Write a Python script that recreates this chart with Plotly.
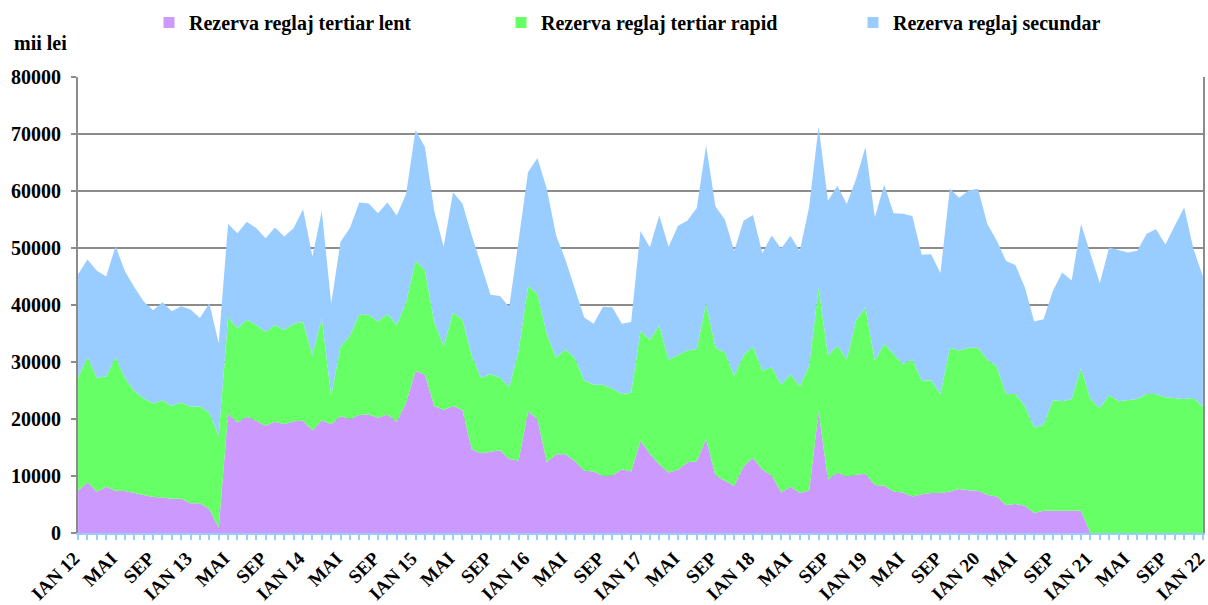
import plotly.graph_objects as go

# Monthly reserve costs, Jan 2012 - Jan 2022 (thousand lei)
months = ["IAN", "FEB", "MAR", "APR", "MAI", "IUN", "IUL", "AUG", "SEP", "OCT", "NOI", "DEC"]

# cumulative level of the "lent" band (bottom layer)
lent = [
    7400, 8900, 7250, 8100, 7400, 7350, 7000, 6600, 6300, 6250, 6000, 6000,
    5200, 5200, 4200, 900, 20900, 19400, 20400, 19700, 18800, 19500, 19100, 19600,
    19700, 18000, 19800, 19100, 20500, 20000, 20700, 20800, 20200, 20800, 19500, 22900,
    28400, 27800, 22300, 21600, 22300, 21600, 14700, 14000, 14200, 14500, 13000, 12700,
    21300, 20000, 12400, 13800, 13800, 12600, 10900, 10800, 10000, 10100, 11200, 10800,
    16200, 13900, 12000, 10600, 11100, 12400, 12600, 16500, 10100, 9200, 8300, 11700,
    13200, 11100, 10100, 7100, 8100, 7000, 7500, 21300, 9400, 10600, 9900, 10200,
    10400, 8400, 8300, 7300, 7100, 6400, 6800, 7000, 7000, 7300, 7700, 7500,
    7400, 6700, 6400, 4900, 5100, 4800, 3500, 3900, 3900, 3900, 3900, 3900,
    0, 0, 0, 0, 0, 0, 0, 0, 0, 0, 0, 0, 0,
]

# cumulative level of lent + rapid
lent_rapid = [
    27300, 30900, 27200, 27500, 30900, 27200, 24900, 23600, 22700, 23300, 22300, 22900,
    22200, 22200, 21100, 17100, 37800, 35900, 37400, 36500, 35200, 36500, 35600, 36700,
    37000, 31200, 37700, 24100, 32700, 34600, 38300, 38300, 37100, 38400, 36500, 40500,
    47800, 46100, 37000, 32700, 38700, 37400, 31100, 27200, 27900, 27300, 25600, 32000,
    43300, 42000, 34900, 30800, 32200, 30700, 26800, 26000, 26000, 25300, 24400, 24600,
    35500, 33900, 36450, 30400, 31200, 32000, 32300, 40300, 32500, 31700, 27600, 31200,
    32700, 28500, 29100, 26000, 27800, 25800, 29400, 43100, 31100, 32900, 30500, 37300,
    39600, 30200, 33200, 31400, 29600, 30500, 26700, 26800, 24400, 32500, 32000, 32500,
    32500, 30400, 29200, 24400, 24400, 22300, 18500, 19000, 23300, 23100, 23500, 28900,
    23500, 21900, 24200, 23100, 23300, 23500, 24400, 24400, 23800, 23600, 23500, 23700,
    22200,
]

# total of all three reserves
total = [
    45400, 48000, 46000, 45000, 50300, 45900, 43100, 40600, 39100, 40500, 38900, 39800,
    39200, 37700, 40300, 33300, 54200, 52600, 54600, 53500, 51700, 53600, 52000, 53500,
    56800, 48500, 56500, 40200, 51100, 53500, 58000, 57800, 56100, 58000, 55700, 59500,
    70700, 67700, 56500, 50200, 59800, 57800, 52200, 47100, 41800, 41600, 39700, 51400,
    63300, 65800, 60400, 52200, 47900, 42800, 37800, 36700, 39700, 39600, 36700, 37000,
    53000, 50100, 55700, 50200, 53900, 54800, 57000, 68000, 57300, 55000, 49500, 54800,
    55800, 49100, 52200, 49900, 52100, 49500, 57300, 71300, 58300, 60900, 57700, 62100,
    67700, 55400, 61100, 56100, 56000, 55600, 48800, 48900, 45600, 60400, 58800, 60100,
    60400, 54200, 51300, 47700, 47000, 43100, 37100, 37500, 42500, 45700, 44300, 54200,
    48900, 43800, 50100, 49600, 49200, 49500, 52500, 53300, 50600, 53900, 57100, 49800,
    45000,
]

rezerva_lent = lent
rezerva_rapid = [b - a for a, b in zip(lent, lent_rapid)]
rezerva_secundar = [c - b for b, c in zip(lent_rapid, total)]

x = list(range(len(total)))
tick_vals = list(range(0, len(total), 4))
tick_text = []
for v in tick_vals:
    m = months[v % 12]
    if m == "IAN":
        tick_text.append(f"IAN {12 + v // 12}")
    else:
        tick_text.append(m)

series = [
    ("Rezerva reglaj tertiar lent", rezerva_lent, "#CC99FF"),
    ("Rezerva reglaj tertiar rapid", rezerva_rapid, "#66FF66"),
    ("Rezerva reglaj secundar", rezerva_secundar, "#99CCFF"),
]

font_family = "Liberation Serif, Times New Roman, serif"
bold20 = dict(family=font_family, size=20, color="black", weight="bold")
bold19 = dict(family=font_family, size=19, color="black", weight="bold")

fig = go.Figure()
for name, vals, color in series:
    fig.add_trace(go.Scatter(
        x=x, y=vals, name=name, stackgroup="one", mode="lines",
        line=dict(width=0, color=color), fillcolor=color, showlegend=False,
        hoverinfo="x+y",
    ))
# square legend swatches
for name, vals, color in series:
    fig.add_trace(go.Scatter(
        x=[None], y=[None], name=name, mode="markers",
        marker=dict(symbol="square", size=11, color=color), showlegend=True,
    ))

fig.update_layout(
    width=1208, height=605,
    margin=dict(l=78, r=5, t=77, b=72),
    paper_bgcolor="white", plot_bgcolor="white",
    font=bold20,
    legend=dict(
        orientation="h", x=0.0631, y=0.995, xanchor="left", yanchor="top",
        yref="container", entrywidth=307, entrywidthmode="pixels",
        font=bold20, itemwidth=30, traceorder="normal",
    ),
    showlegend=True,
)

fig.update_xaxes(
    range=[-0.01, 120.01], tickvals=tick_vals, ticktext=tick_text, tickangle=-45,
    ticks="outside", ticklen=5, tickcolor="#99CCFF", tickwidth=1.5,
    minor=dict(dtick=1, tick0=0, ticks="outside", ticklen=5, tickcolor="#99CCFF", tickwidth=1.5),
    showgrid=False, zeroline=False,
    showline=True, linecolor="#99CCFF", linewidth=1.5,
    tickfont=bold19, automargin=False, ticklabeloverflow="allow",
    ticklabelshift=-4,
)
fig.update_yaxes(
    range=[0, 80000], dtick=10000, tick0=0, tickformat="d",
    showgrid=True, gridcolor="#8c8c8c", gridwidth=2,
    showline=True, linecolor="#8c8c8c", linewidth=2, mirror=True,
    ticks="outside", ticklen=5, tickcolor="#8c8c8c", tickwidth=1.5,
    ticklabelstandoff=6, automargin=False,
    zeroline=False,
    tickfont=bold20,
)

fig.add_annotation(
    text="mii lei", xref="paper", yref="paper", x=-0.059, y=1.075,
    xanchor="left", yanchor="middle", showarrow=False,
    font=bold20,
)

fig.write_html("out.html")
